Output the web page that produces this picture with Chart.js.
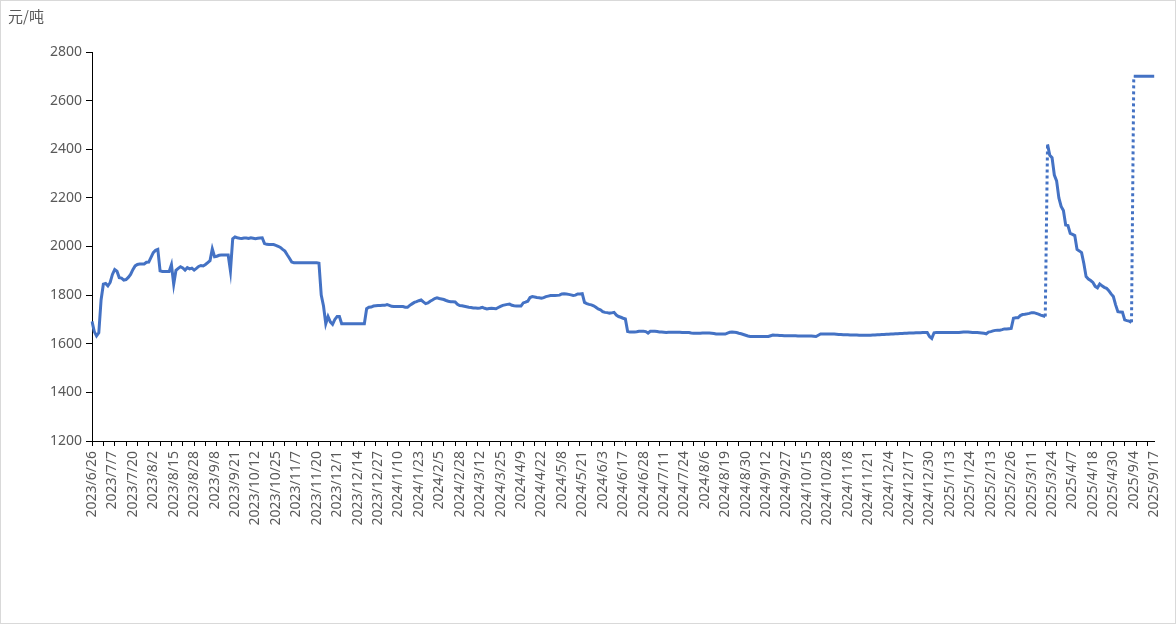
<!DOCTYPE html>
<html>
<head>
<meta charset="utf-8">
<script src="https://cdn.jsdelivr.net/npm/chart.js@4.4.1/dist/chart.umd.min.js"></script>
<style>
  body { margin: 0; background: #fff; }
  #wrap { position: relative; width: 1176px; height: 624px; }
  #frame { position: absolute; left: 0; top: 0; width: 1176px; height: 624px; box-sizing: border-box; border: 1px solid #d9d9d9; pointer-events: none; }
  #unit { position: absolute; left: 8px; top: 5px; font: 15px "Noto Sans CJK SC", "Noto Sans", sans-serif; color: #595959; }
</style>
</head>
<body>
<div id="wrap">
  <canvas id="chart" width="1176" height="624"></canvas>
  <div id="unit">元/吨</div>
  <div id="frame"></div>
</div>
<script>
// one label every 9 trading days
const tickLabels = [
  '2023/6/26','2023/7/7','2023/7/20','2023/8/2','2023/8/15','2023/8/28','2023/9/8','2023/9/21',
  '2023/10/12','2023/10/25','2023/11/7','2023/11/20','2023/12/1','2023/12/14','2023/12/27',
  '2024/1/10','2024/1/23','2024/2/5','2024/2/28','2024/3/12','2024/3/25','2024/4/9','2024/4/22',
  '2024/5/8','2024/5/21','2024/6/3','2024/6/17','2024/6/28','2024/7/11','2024/7/24','2024/8/6',
  '2024/8/19','2024/8/30','2024/9/12','2024/9/27','2024/10/15','2024/10/28','2024/11/8','2024/11/21',
  '2024/12/4','2024/12/17','2024/12/30','2025/1/13','2025/1/24','2025/2/13','2025/2/26','2025/3/11',
  '2025/3/24','2025/4/7','2025/4/18','2025/4/30','2025/9/4','2025/9/17'
];
const labelStep = 9;

// 元/吨, one row per label period
const priceValues = [
  1692,1650,1632,1645,1780,1845,1848,1838,1852,
  1885,1905,1898,1872,1870,1862,1864,1873,1885,
  1905,1920,1926,1928,1928,1928,1935,1936,1955,
  1975,1984,1988,1900,1897,1897,1897,1897,1925,
  1845,1902,1910,1917,1912,1903,1913,1908,1911,
  1903,1910,1918,1922,1920,1926,1934,1942,1990,
  1958,1960,1964,1965,1965,1965,1965,1900,2032,
  2039,2036,2034,2033,2035,2035,2033,2036,2034,
  2032,2034,2035,2036,2012,2009,2008,2008,2008,
  2005,2001,1996,1988,1981,1966,1952,1936,1933,
  1933,1933,1933,1933,1933,1933,1933,1933,1933,
  1933,1931,1800,1755,1682,1712,1690,1680,1700,
  1712,1712,1682,1682,1682,1682,1682,1682,1682,
  1682,1682,1682,1682,1744,1750,1751,1755,1756,
  1757,1757,1758,1758,1761,1758,1754,1753,1753,
  1753,1753,1753,1750,1750,1758,1764,1770,1773,
  1777,1780,1772,1765,1768,1775,1780,1786,1789,
  1786,1784,1782,1778,1775,1773,1773,1772,1762,
  1757,1756,1754,1752,1750,1749,1747,1747,1746,
  1747,1750,1746,1743,1745,1746,1745,1744,1749,
  1754,1758,1760,1762,1763,1758,1756,1755,1755,
  1755,1768,1771,1775,1790,1794,1792,1790,1789,
  1787,1790,1794,1796,1798,1798,1798,1799,1800,
  1805,1806,1805,1803,1801,1799,1800,1805,1805,
  1806,1770,1765,1762,1760,1756,1750,1743,1740,
  1732,1729,1728,1726,1727,1729,1718,1712,1709,
  1705,1702,1650,1648,1648,1648,1649,1651,1651,
  1651,1650,1644,1651,1651,1651,1650,1648,1648,
  1647,1646,1647,1647,1647,1647,1647,1647,1646,
  1646,1646,1646,1644,1643,1643,1643,1643,1644,
  1644,1644,1644,1643,1642,1640,1640,1640,1640,
  1640,1644,1647,1648,1647,1646,1643,1641,1638,
  1635,1632,1630,1630,1630,1630,1630,1630,1630,
  1630,1630,1633,1636,1635,1635,1634,1634,1633,
  1633,1633,1633,1633,1633,1632,1632,1632,1632,
  1632,1632,1632,1631,1630,1635,1640,1640,1640,
  1640,1640,1640,1640,1639,1638,1638,1637,1637,
  1637,1636,1636,1636,1636,1635,1635,1635,1635,
  1635,1635,1636,1636,1637,1637,1638,1638,1639,
  1639,1640,1640,1641,1641,1642,1642,1643,1643,
  1644,1644,1644,1645,1645,1645,1646,1646,1646,
  1630,1622,1645,1646,1646,1646,1646,1646,1646,
  1646,1646,1646,1646,1646,1647,1648,1648,1648,
  1647,1646,1646,1646,1645,1644,1643,1641,1648,
  1650,1653,1655,1656,1656,1658,1661,1661,1662,
  1663,1705,1707,1707,1716,1720,1721,1723,1725,
  1728,1728,1725,1722,1718,1715,1712,2420,2375,
  2365,2294,2270,2200,2165,2148,2088,2086,2054,
  2050,2045,1988,1982,1975,1930,1876,1866,1860,
  1852,1836,1830,1846,1838,1832,1828,1818,1805,
  1794,1760,1732,1731,1730,1698,1695,1693,1688,
  2700,2700,2700,2700,2700,2700,2700,2700,2700,
  2700
];

const yMin = 1200, yMax = 2800, yStep = 200;
const jumpLimit = 300; // contract switch jumps are drawn dotted

const categories = priceValues.map((v, i) => i % labelStep === 0 ? tickLabels[i / labelStep] : '');

const textColor = '#595959';
const tickFont = { family: 'Noto Sans', size: 14 };

new Chart(document.getElementById('chart'), {
  type: 'line',
  data: {
    labels: categories,
    datasets: [{
      data: priceValues,
      borderColor: '#4472C4',
      borderWidth: 3,
      pointRadius: 0,
      tension: 0,
      fill: false,
      segment: {
        borderDash: ctx => Math.abs(ctx.p1.parsed.y - ctx.p0.parsed.y) > jumpLimit ? [3, 3] : undefined
      }
    }]
  },
  options: {
    responsive: false,
    animation: false,
    devicePixelRatio: 1,
    layout: { padding: { top: 52, right: 21, left: 0, bottom: 0 } },
    plugins: { legend: { display: false }, tooltip: { enabled: false } },
    scales: {
      x: {
        offset: false,
        afterFit: s => { s.height = 183; },
        border: { display: true, color: '#000', width: 1 },
        grid: {
          drawOnChartArea: false,
          drawTicks: true,
          tickLength: 5,
          color: ctx => ctx.index % 5 === 0 ? '#000' : 'rgba(0,0,0,0)'
        },
        ticks: {
          autoSkip: false,
          minRotation: 90,
          maxRotation: 90,
          padding: 5,
          color: textColor,
          font: tickFont
        }
      },
      y: {
        min: yMin,
        max: yMax,
        afterFit: s => { s.width = 92; },
        border: { display: true, color: '#000', width: 1 },
        grid: { drawOnChartArea: false, drawTicks: true, tickLength: 6, color: '#000' },
        ticks: { stepSize: yStep, padding: 4, color: textColor, font: tickFont, callback: v => String(v) }
      }
    }
  }
});
</script>
</body>
</html>
